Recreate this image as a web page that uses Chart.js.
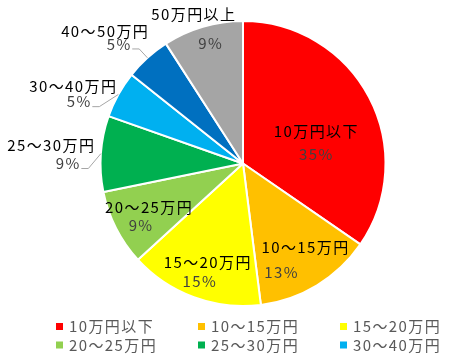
<!DOCTYPE html>
<html>
<head>
<meta charset="utf-8">
<script src="https://cdn.jsdelivr.net/npm/chart.js@4"></script>
<style>
  html, body { margin: 0; padding: 0; background: #fff; overflow: hidden; }
  #wrap { width: 476px; height: 354px; }
</style>
</head>
<body>
<div id="wrap"><canvas id="myChart"></canvas></div>
<script>
// income brackets and their share (%)
const labels = ['10万円以下', '10～15万円', '15～20万円', '20～25万円', '25～30万円', '30～40万円', '40～50万円', '50万円以上'];
const shares = [34.6, 13.4, 15.2, 8.6, 8.6, 5.3, 5.2, 9.1];
const colors = ['#FF0000', '#FFC000', '#FFFF00', '#92D050', '#00B050', '#00B0F0', '#0070C0', '#A5A5A5'];
const legendCount = 6; // only first two legend rows are visible

// label anchors, in units of the pie radius from its centre: [nameX, nameY, pctX, pctY]
const labelAnchors = [
    [0.510, -0.224, 0.510, -0.063],
    [0.434, 0.587, 0.266, 0.762],
    [-0.252, 0.692, -0.308, 0.825],
    [-0.664, 0.308, -0.720, 0.434],
    [-1.350, -0.126, -1.231, 0.000],
    [-1.196, -0.545, -1.154, -0.434],
    [-0.972, -0.930, -0.874, -0.839],
    [-0.350, -1.049, -0.231, -0.846]
];
const leaderLines = [false, false, false, false, true, true, true, false];

const FONT = '15px "Noto Sans CJK JP", "Noto Sans", sans-serif';
const SPACING = 1.4;

function drawText(ctx, text, x, y, align) {
    ctx.letterSpacing = SPACING + 'px';
    const w = ctx.measureText(text).width - SPACING;
    const left = align === 'center' ? x - w / 2 : x;
    ctx.textAlign = 'left';
    ctx.fillText(text, left, y);
    return w;
}

const labelPlugin = {
    id: 'sliceLabels',
    afterDatasetsDraw(chart) {
        const ctx = chart.ctx;
        const meta = chart.getDatasetMeta(0);
        const total = shares.reduce((a, b) => a + b, 0);
        ctx.save();
        ctx.font = FONT;
        ctx.textBaseline = 'middle';
        meta.data.forEach((arc, i) => {
            const p = arc.getProps(['x', 'y', 'startAngle', 'endAngle', 'outerRadius'], true);
            const r = p.outerRadius;
            const a = labelAnchors[i];
            const pct = Math.round(shares[i] / total * 100) + '%';
            ctx.fillStyle = '#000000';
            drawText(ctx, labels[i], p.x + a[0] * r, p.y + a[1] * r, 'center');
            ctx.fillStyle = '#404040';
            const px = p.x + a[2] * r, py = p.y + a[3] * r;
            const w = drawText(ctx, pct, px, py, 'center');
            if (leaderLines[i]) {
                const mid = (p.startAngle + p.endAngle) / 2;
                const ex = p.x + Math.cos(mid) * r;
                const ey = p.y + Math.sin(mid) * r;
                const sx = px + w / 2 + 2, sy = py + 5;
                ctx.strokeStyle = '#A6A6A6';
                ctx.lineWidth = 1;
                ctx.beginPath();
                ctx.moveTo(sx, sy);
                ctx.lineTo(sx + 7, sy);
                ctx.lineTo(ex, ey);
                ctx.stroke();
            }
        });
        ctx.restore();
    }
};

const legendPlugin = {
    id: 'gridLegend',
    afterDraw(chart) {
        const ctx = chart.ctx;
        const colX = [56, 198, 340];
        const rowY = [326.5, 345];
        ctx.save();
        ctx.font = FONT;
        ctx.textBaseline = 'middle';
        for (let i = 0; i < legendCount; i++) {
            const x = colX[i % 3], y = rowY[Math.floor(i / 3)];
            ctx.fillStyle = colors[i];
            ctx.fillRect(x, y - 3.5, 7, 7);
            ctx.fillStyle = '#595959';
            drawText(ctx, labels[i], x + 13, y, 'left');
        }
        ctx.restore();
    }
};

const ctx = document.getElementById('myChart').getContext('2d');
const myChart = new Chart(ctx, {
    type: 'pie',
    data: {
        labels: labels,
        datasets: [{
            data: shares,
            backgroundColor: colors,
            borderColor: '#FFFFFF',
            borderWidth: 2
        }]
    },
    options: {
        responsive: true,
        maintainAspectRatio: false,
        animation: false,
        layout: { padding: { top: 20, bottom: 47, left: 10, right: 0 } },
        plugins: {
            legend: { display: false },
            tooltip: { enabled: false }
        }
    },
    plugins: [labelPlugin, legendPlugin]
});
</script>
</body>
</html>
